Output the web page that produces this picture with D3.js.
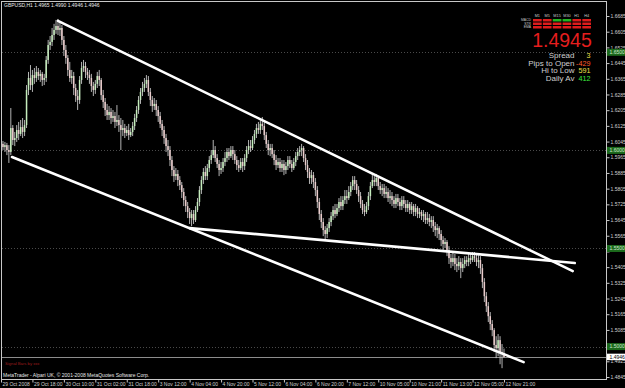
<!DOCTYPE html>
<html>
<head>
<meta charset="utf-8">
<script src="https://cdn.jsdelivr.net/npm/d3@7"></script>
<style>
  html, body { margin: 0; padding: 0; background: #000; }
  svg { display: block; }
  text { font-family: "Liberation Sans", Arial, sans-serif; }
</style>
</head>
<body>
<div id="chart"></div>
<script>
// GBPUSD H1, 29 Oct - 12 Nov 2008. prices are x 10000
const opens = [
  16022,16033,16017,16027,16002,15992,16114,16053,16063,16104,
  16084,16119,16094,16129,16308,16369,16333,16384,16369,16400,
  16379,16390,16359,16369,16461,16537,16553,16588,16614,16634,
  16614,16624,16563,16512,16471,16410,16369,16379,16318,16277,
  16257,16359,16420,16430,16400,16384,16369,16328,16308,16339,
  16379,16359,16282,16247,16206,16180,16196,16165,16175,16145,
  16155,16129,16104,16114,16089,16104,16078,16094,16124,16165,
  16206,16257,16298,16318,16339,16359,16298,16257,16226,16237,
  16206,16175,16135,16104,16063,16022,16002,15951,15900,15869,
  15880,15849,15823,15788,15747,15716,15686,15655,15676,15645,
  15696,15737,15798,15849,15890,15869,15910,15951,15976,16002,
  15961,15931,15900,15910,15941,15961,15992,15971,16002,15981,
  15951,15925,15910,15941,15920,15961,16002,16022,16012,16053,
  16084,16114,16104,16135,16124,16078,16033,16002,16012,15981,
  15951,15925,15941,15910,15931,15900,15920,15951,15931,15910,
  15941,15971,15992,16002,16012,15961,15925,15890,15859,15874,
  15839,15798,15737,15676,15635,15594,15574,15604,15635,15665,
  15696,15676,15706,15737,15716,15747,15767,15757,15788,15818,
  15849,15829,15798,15767,15727,15696,15686,15716,15767,15818,
  15849,15839,15859,15818,15798,15808,15778,15788,15757,15767,
  15747,15727,15757,15737,15716,15747,15727,15706,15727,15696,
  15716,15686,15706,15676,15686,15665,15676,15645,15655,15635,
  15645,15614,15594,15604,15574,15543,15523,15533,15492,15451,
  15431,15451,15421,15410,15431,15400,15421,15441,15431,15451,
  15441,15461,15451,15431,15441,15400,15329,15257,15206,15155,
  15115,15084,15008,14992,15033,14972,14965
];
const highs = [
  16053,16048,16043,16038,16027,16216,16129,16094,16129,16145,
  16155,16165,16155,16333,16400,16435,16410,16420,16430,16420,
  16410,16400,16390,16481,16563,16583,16624,16645,16665,16670,
  16655,16639,16583,16537,16486,16451,16410,16400,16339,16308,
  16379,16451,16461,16451,16420,16410,16390,16349,16359,16400,
  16410,16369,16308,16267,16237,16226,16216,16206,16196,16231,
  16180,16165,16155,16135,16124,16135,16114,16145,16186,16226,
  16277,16318,16349,16369,16384,16379,16318,16277,16267,16257,
  16226,16196,16155,16124,16084,16053,16022,15971,15920,15910,
  15900,15869,15839,15808,15767,15737,15706,15696,15696,15716,
  15757,15818,15869,15910,15920,15931,15971,16002,16053,16022,
  15981,15951,15941,15961,15992,16012,16012,16022,16022,16002,
  15971,15951,15961,15961,15981,16022,16053,16053,16073,16104,
  16135,16145,16155,16170,16145,16094,16053,16033,16033,16002,
  15976,15961,15961,15951,15951,15941,15971,15971,15951,15961,
  15992,16012,16022,16033,16022,15981,15951,15910,15900,15890,
  15859,15818,15757,15696,15655,15614,15625,15655,15686,15716,
  15727,15727,15757,15767,15767,15798,15798,15818,15839,15869,
  15869,15849,15818,15788,15747,15727,15737,15788,15839,15880,
  15869,15880,15869,15839,15829,15829,15818,15808,15798,15788,
  15767,15778,15778,15757,15767,15767,15747,15747,15737,15737,
  15727,15727,15716,15706,15696,15696,15686,15686,15676,15665,
  15665,15635,15625,15614,15594,15563,15553,15543,15512,15472,
  15482,15472,15451,15461,15451,15451,15461,15461,15472,15472,
  15482,15482,15472,15466,15461,15421,15349,15278,15227,15176,
  15135,15094,15053,15064,15053,15013,14990
];
const lows = [
  16002,16002,15992,15976,15936,15976,16027,16022,16043,16053,
  16073,16063,16073,16114,16282,16308,16298,16339,16349,16359,
  16349,16328,16333,16349,16441,16512,16532,16563,16594,16588,
  16583,16537,16481,16441,16379,16349,16339,16282,16247,16206,
  16237,16339,16400,16369,16359,16339,16298,16277,16288,16318,
  16328,16257,16216,16175,16155,16155,16135,16145,16114,16124,
  16094,16002,16073,16063,16073,16053,16068,16073,16104,16145,
  16186,16237,16277,16298,16318,16277,16226,16196,16206,16175,
  16145,16114,16073,16033,15992,15971,15920,15869,15839,15849,
  15818,15798,15757,15716,15686,15655,15625,15614,15625,15635,
  15686,15716,15778,15829,15849,15849,15890,15931,15961,15941,
  15910,15869,15880,15890,15920,15941,15951,15961,15951,15931,
  15900,15890,15900,15890,15900,15941,15981,15992,16002,16033,
  16063,16084,16084,16104,16053,16012,15976,15971,15961,15925,
  15900,15910,15890,15890,15874,15880,15900,15910,15890,15900,
  15920,15951,15971,15971,15941,15900,15859,15829,15829,15808,
  15767,15706,15645,15604,15563,15543,15553,15584,15614,15645,
  15655,15665,15686,15696,15696,15727,15727,15747,15767,15798,
  15798,15778,15737,15706,15676,15665,15676,15696,15747,15808,
  15818,15818,15798,15778,15767,15757,15757,15737,15727,15716,
  15706,15706,15716,15696,15696,15706,15686,15686,15676,15676,
  15665,15665,15655,15655,15645,15635,15625,15625,15614,15604,
  15584,15563,15553,15543,15512,15492,15502,15461,15421,15400,
  15410,15390,15380,15390,15349,15380,15400,15410,15410,15421,
  15431,15431,15410,15400,15370,15298,15227,15176,15125,15084,
  15053,14972,14941,14951,14910,14890,14946
];
const closes = [
  16033,16017,16027,16002,15992,16114,16053,16063,16104,16084,
  16119,16094,16129,16308,16369,16333,16384,16369,16400,16379,
  16390,16359,16369,16461,16537,16553,16588,16614,16634,16614,
  16624,16563,16512,16471,16410,16369,16379,16318,16277,16257,
  16359,16420,16430,16400,16384,16369,16328,16308,16339,16379,
  16359,16282,16247,16206,16180,16196,16165,16175,16145,16155,
  16129,16104,16114,16089,16104,16078,16094,16124,16165,16206,
  16257,16298,16318,16339,16359,16298,16257,16226,16237,16206,
  16175,16135,16104,16063,16022,16002,15951,15900,15869,15880,
  15849,15823,15788,15747,15716,15686,15655,15676,15645,15696,
  15737,15798,15849,15890,15869,15910,15951,15976,16002,15961,
  15931,15900,15910,15941,15961,15992,15971,16002,15981,15951,
  15925,15910,15941,15920,15961,16002,16022,16012,16053,16084,
  16114,16104,16135,16124,16078,16033,16002,16012,15981,15951,
  15925,15941,15910,15931,15900,15920,15951,15931,15910,15941,
  15971,15992,16002,16012,15961,15925,15890,15859,15874,15839,
  15798,15737,15676,15635,15594,15574,15604,15635,15665,15696,
  15676,15706,15737,15716,15747,15767,15757,15788,15818,15849,
  15829,15798,15767,15727,15696,15686,15716,15767,15818,15849,
  15839,15859,15818,15798,15808,15778,15788,15757,15767,15747,
  15727,15757,15737,15716,15747,15727,15706,15727,15696,15716,
  15686,15706,15676,15686,15665,15676,15645,15655,15635,15645,
  15614,15594,15604,15574,15543,15523,15533,15492,15451,15431,
  15451,15421,15410,15431,15400,15421,15441,15431,15451,15441,
  15461,15451,15431,15441,15400,15329,15257,15206,15155,15115,
  15084,15008,14992,15033,14972,14965,14946
];

// one time label every 16 bars
const xTickLabels = ["29 Oct 2008","29 Oct 18:00","30 Oct 10:00","31 Oct 02:00","31 Oct 18:00",
  "3 Nov 12:00","4 Nov 04:00","4 Nov 20:00","5 Nov 12:00","6 Nov 04:00","6 Nov 20:00",
  "7 Nov 12:00","10 Nov 05:00","10 Nov 21:00","11 Nov 13:00","12 Nov 05:00","12 Nov 21:00"];
const barsPerLabel = 16;
const yTicks = [1.4845,1.4925,1.5005,1.5085,1.5165,1.5245,1.5325,1.5405,1.5485,1.5565,1.5645,1.5725,
  1.5805,1.5885,1.5965,1.6045,1.6125,1.6205,1.6285,1.6365,1.6445,1.6525,1.6605,1.6685];
const levels = [1.6500, 1.6000, 1.5500, 1.5000];
const bid = 1.4946;

// trendlines: [bar index, price] endpoints
const trendLines = [
  [[29, 1.6660], [291, 1.5385]],
  [[96, 1.5604], [292, 1.5426]],
  [[5.6, 1.5966], [266, 1.4921]]
];

// signal bars panel
const timeframes = ["M1","M5","M15","M30","H1","H4"];
const signalRows = ["MACD","STR","EMA"];
const signals = [
  [0,0,1,1,0,0],
  [0,0,0,0,0,0],
  [0,0,0,0,0,0]
];
const infoLabels = ["Spread","Pips to Open","Hi to Low","Daily Av"];
const infoValues = ["3","-429","591","412"];
const infoColors = ["#f4e24a","#ff5a2a","#f4e24a","#3ee83e"];

const W = 625, H = 388;
const plotRight = 606, plotBottom = 379;

let data = d3.range(closes.length).map(i => ({
  i: i,
  o: opens[i] / 1e4, h: highs[i] / 1e4, l: lows[i] / 1e4, c: closes[i] / 1e4
}));

let x = d3.scaleLinear().domain([0, 256]).range([1, 504]);
let y = d3.scaleLinear().domain([1.4845, 1.6685]).range([377, 16]);

let svg = d3.select("#chart").append("svg")
  .attr("width", W)
  .attr("height", H);

svg.append("rect").attr("width", W).attr("height", H).attr("fill", "#000");

svg.append("defs").append("clipPath").attr("id", "plotclip")
  .append("rect").attr("x", 2).attr("y", 2).attr("width", plotRight - 2).attr("height", plotBottom - 2);

let plot = svg.append("g").attr("clip-path", "url(#plotclip)");

// round number levels
plot.selectAll("line.level").data(levels).enter().append("line")
  .attr("class", "level")
  .attr("x1", 2).attr("x2", plotRight)
  .attr("y1", d => Math.round(y(d)) + 0.5).attr("y2", d => Math.round(y(d)) + 0.5)
  .attr("stroke", "#4a4a4a")
  .attr("stroke-dasharray", "1,2");

// bid line
plot.append("line")
  .attr("x1", 2).attr("x2", plotRight)
  .attr("y1", Math.round(y(bid)) + 0.5).attr("y2", Math.round(y(bid)) + 0.5)
  .attr("stroke", "#8c8c8c");

// candles
let candle = plot.selectAll("g.candle").data(data).enter().append("g").attr("class", "candle");

candle.append("line")
  .attr("x1", d => x(d.i)).attr("x2", d => x(d.i))
  .attr("y1", d => y(d.h)).attr("y2", d => y(d.l))
  .attr("stroke", "#c8c8c8")
  .attr("stroke-width", 0.9);

candle.append("rect")
  .attr("x", d => x(d.i) - 0.75)
  .attr("width", 1.5)
  .attr("y", d => y(Math.max(d.o, d.c)))
  .attr("height", d => Math.max(1, Math.abs(y(d.o) - y(d.c))))
  .attr("fill", d => d.c >= d.o ? "#c4ecbc" : "#eacccc");

// trendlines
let tl = d3.line().x(d => x(d[0])).y(d => y(d[1]));
plot.selectAll("path.trend").data(trendLines).enter().append("path")
  .attr("class", "trend")
  .attr("d", tl)
  .attr("fill", "none")
  .attr("stroke", "#fff")
  .attr("stroke-width", 2.6)
  .attr("stroke-linecap", "round");

// frame
svg.append("rect")
  .attr("x", 1.5).attr("y", 1.5)
  .attr("width", plotRight - 1).attr("height", plotBottom - 1)
  .attr("fill", "none")
  .attr("stroke", "#c8c8c8");

// price axis, tick labels fully hidden under a level box are skipped
let boxed = levels.concat([bid]);
let yAxis = d3.axisRight(y).tickValues(yTicks).tickSize(3)
  .tickFormat(d => boxed.some(b => Math.abs(y(b) - y(d)) < 4) ? "" : d3.format(".4f")(d));
let ya = svg.append("g")
  .attr("transform", "translate(" + (plotRight + 0.5) + ",0)")
  .call(yAxis);
ya.select(".domain").remove();
ya.selectAll("line").attr("stroke", "#c8c8c8");
ya.selectAll("text")
  .attr("x", 4)
  .attr("fill", "#d0d0d0")
  .attr("font-size", 5)
  .attr("font-family", "Liberation Sans, Arial, sans-serif");

// level boxes on the price axis
let lb = svg.selectAll("g.lbox").data(levels).enter().append("g").attr("class", "lbox")
  .attr("transform", d => "translate(" + (plotRight + 1) + "," + y(d) + ")");
lb.append("rect").attr("x", 0).attr("y", -3.5).attr("width", 18).attr("height", 7).attr("fill", "#1c6a1c");
lb.append("text").attr("x", 2.5).attr("y", 1.8).attr("font-size", 5).attr("fill", "#cfe8cf")
  .text(d => d3.format(".4f")(d));

let bb = svg.append("g").attr("transform", "translate(" + (plotRight + 1) + "," + y(bid) + ")");
bb.append("rect").attr("x", 0).attr("y", -3.5).attr("width", 18).attr("height", 6.5).attr("fill", "#fff");
bb.append("text").attr("x", 2.5).attr("y", 1.6).attr("font-size", 5).attr("fill", "#000")
  .text(d3.format(".4f")(bid));

// time axis
let xAxis = d3.axisBottom(x)
  .tickValues(xTickLabels.map((d, k) => k * barsPerLabel))
  .tickSize(3)
  .tickFormat((d, k) => xTickLabels[k]);
let xa = svg.append("g")
  .attr("transform", "translate(0," + (plotBottom + 0.5) + ")")
  .call(xAxis);
xa.select(".domain").remove();
xa.selectAll("line").attr("stroke", "#c8c8c8");
xa.selectAll("text")
  .attr("text-anchor", "start")
  .attr("x", 1)
  .attr("y", 3)
  .attr("fill", "#d0d0d0")
  .attr("font-size", 5)
  .attr("font-family", "Liberation Sans, Arial, sans-serif");

// title
svg.append("text")
  .attr("x", 4).attr("y", 7)
  .attr("font-size", 5).attr("fill", "#e8e8e8")
  .text("GBPUSD,H1  1.4965 1.4990 1.4946 1.4946");

// signal bars panel
let col = d3.scaleBand().domain(timeframes).range([533, 591]).paddingInner(0.12);
let row = d3.scaleBand().domain(signalRows).range([19, 28.5]).paddingInner(0.3);

svg.selectAll("text.tf").data(timeframes).enter().append("text")
  .attr("class", "tf")
  .attr("x", d => col(d) + col.bandwidth() / 2).attr("y", 17)
  .attr("text-anchor", "middle")
  .attr("font-size", 3.8).attr("fill", "#c8c8c8")
  .text(d => d);

svg.selectAll("text.sr").data(signalRows).enter().append("text")
  .attr("class", "sr")
  .attr("x", 531).attr("y", d => row(d) + row.bandwidth() - 0.3)
  .attr("text-anchor", "end")
  .attr("font-size", 3.4).attr("fill", "#c8c8c8")
  .text(d => d);

signalRows.forEach((r, ri) => {
  svg.selectAll("rect.sig" + ri).data(signals[ri]).enter().append("rect")
    .attr("x", (d, k) => col(timeframes[k]))
    .attr("y", row(r))
    .attr("width", col.bandwidth())
    .attr("height", row.bandwidth())
    .attr("fill", d => d ? "#22b422" : "#e01c1c");
});

svg.append("text")
  .attr("x", 562).attr("y", 47)
  .attr("text-anchor", "middle")
  .attr("font-size", 19.5).attr("fill", "#e61e1e")
  .text("1.4945");

let info = d3.scalePoint().domain(infoLabels).range([58, 80.5]);
svg.selectAll("text.il").data(infoLabels).enter().append("text")
  .attr("class", "il")
  .attr("x", 574.5).attr("y", d => info(d))
  .attr("text-anchor", "end")
  .attr("font-size", 8).attr("fill", "#cfcfcf")
  .text(d => d);
svg.selectAll("text.iv").data(infoValues).enter().append("text")
  .attr("class", "iv")
  .attr("x", 590.5).attr("y", (d, k) => info(infoLabels[k]))
  .attr("text-anchor", "end")
  .attr("font-size", 7.2)
  .attr("fill", (d, k) => infoColors[k])
  .text(d => d);

// bottom-left credits
svg.append("text")
  .attr("x", 5).attr("y", 365)
  .attr("font-size", 4.2).attr("fill", "#9a1c1c")
  .text("Signal Bars by xxx");
svg.append("text")
  .attr("x", 3).attr("y", 376.5)
  .attr("font-size", 5).attr("fill", "#e8e8e8")
  .text("MetaTrader - Alpari UK, \u00a9 2001-2008 MetaQuotes Software Corp.");
</script>
</body>
</html>
